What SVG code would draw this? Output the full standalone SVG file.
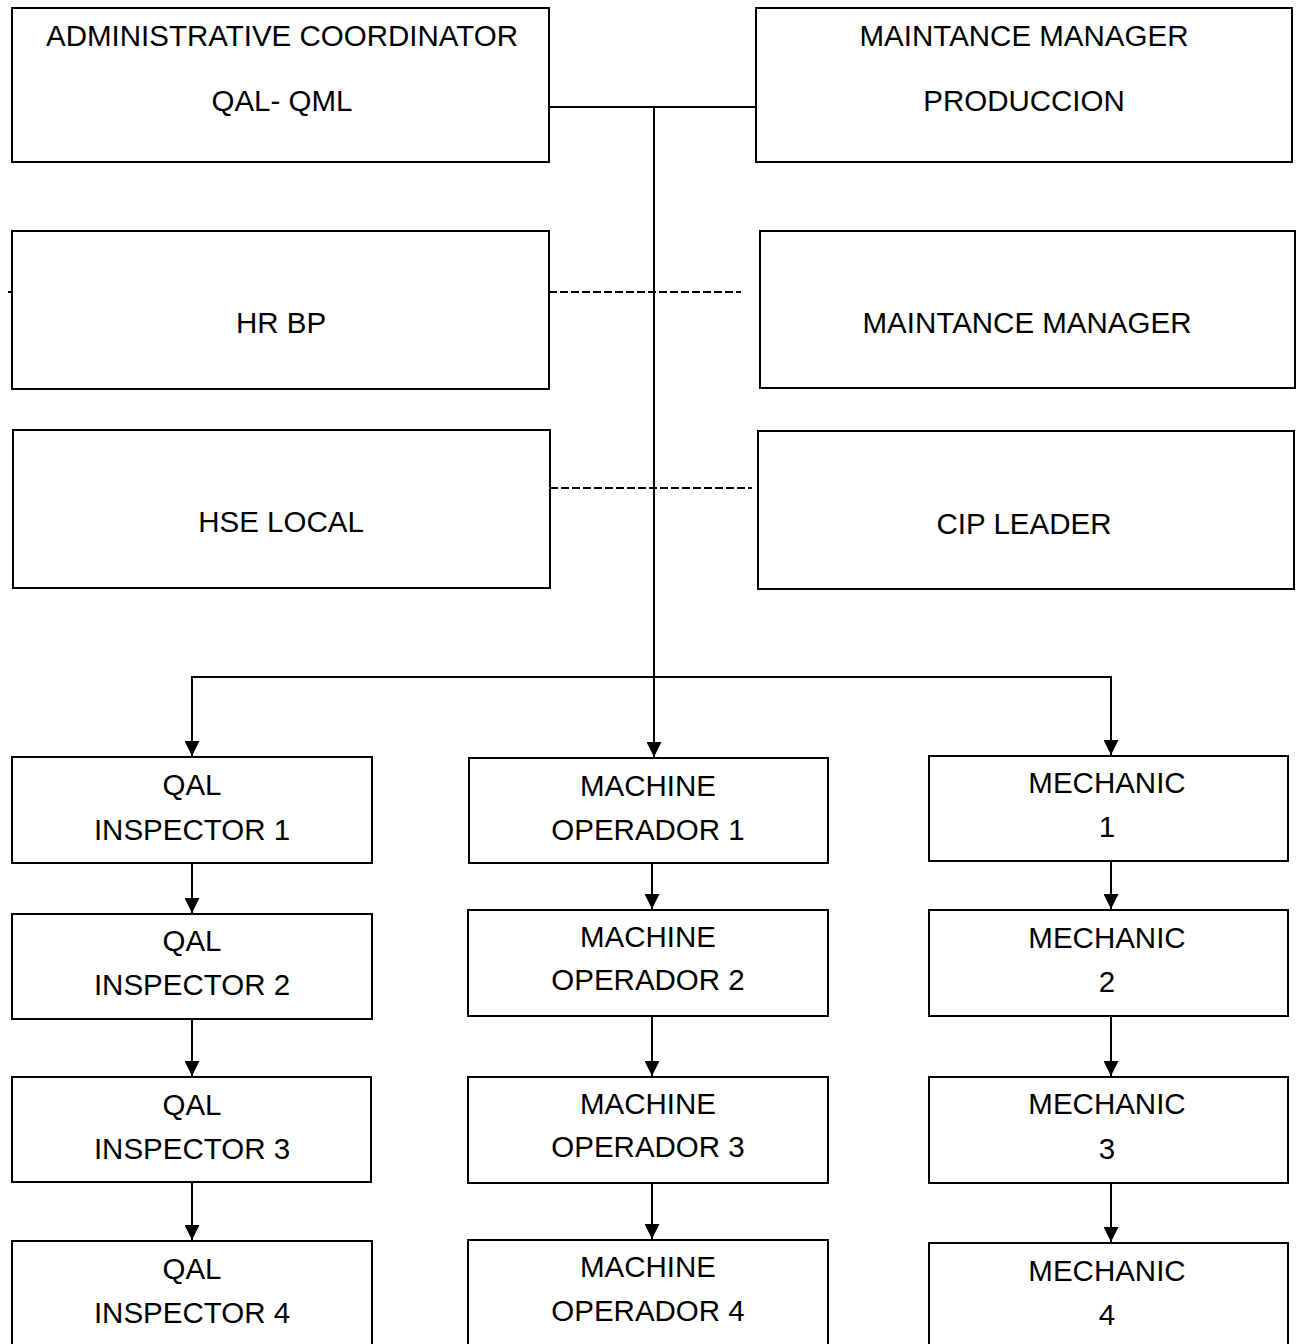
<svg xmlns="http://www.w3.org/2000/svg" width="1296" height="1344" viewBox="0 0 1296 1344">
<style>
.box{fill:#fff;stroke:#000;stroke-width:2}
.t{font-family:"Liberation Sans",Arial,sans-serif;font-size:29.5px;fill:#000;text-anchor:middle}
.c{fill:none;stroke:#000;stroke-width:2}
.d{fill:none;stroke:#000;stroke-width:2;stroke-dasharray:8 3}
</style>
<defs>
<marker id="arr" markerWidth="15" markerHeight="15" refX="15" refY="7.5" orient="auto" markerUnits="userSpaceOnUse">
<path d="M0,0 L15,7.5 L0,15 z" fill="#000"/>
</marker>
</defs>
<rect width="1296" height="1344" fill="#fff"/>
<g id="connectors">
<path class="c" d="M549 107 H756"/>
<path class="c" d="M654 107 V757" marker-end="url(#arr)"/>
<path class="c" d="M654 677 H192 V756" marker-end="url(#arr)"/>
<path class="c" d="M654 677 H1111 V755" marker-end="url(#arr)"/>
<path class="d" d="M549 292 H741"/>
<path class="d" d="M550 488 H752"/>
<path class="c" d="M8 292 H12"/>
<path class="c" d="M192 863 V913" marker-end="url(#arr)"/>
<path class="c" d="M652 863 V909" marker-end="url(#arr)"/>
<path class="c" d="M1111 861 V909" marker-end="url(#arr)"/>
<path class="c" d="M192 1019 V1076" marker-end="url(#arr)"/>
<path class="c" d="M652 1016 V1076" marker-end="url(#arr)"/>
<path class="c" d="M1111 1016 V1076" marker-end="url(#arr)"/>
<path class="c" d="M192 1182 V1240" marker-end="url(#arr)"/>
<path class="c" d="M652 1183 V1239" marker-end="url(#arr)"/>
<path class="c" d="M1111 1183 V1242" marker-end="url(#arr)"/>
</g>
<g id="admin"><rect class="box" x="12" y="8" width="537" height="154"/><text class="t" x="282" y="46">ADMINISTRATIVE COORDINATOR</text><text class="t" x="282" y="111">QAL- QML</text></g>
<g id="mmprod"><rect class="box" x="756" y="8" width="536" height="154"/><text class="t" x="1024" y="46">MAINTANCE MANAGER</text><text class="t" x="1024" y="111">PRODUCCION</text></g>
<g id="hrbp"><rect class="box" x="12" y="231" width="537" height="158"/><text class="t" x="281" y="333">HR BP</text></g>
<g id="mm"><rect class="box" x="760" y="231" width="535" height="157"/><text class="t" x="1027" y="333">MAINTANCE MANAGER</text></g>
<g id="hse"><rect class="box" x="13" y="430" width="537" height="158"/><text class="t" x="281" y="532">HSE LOCAL</text></g>
<g id="cip"><rect class="box" x="758" y="431" width="536" height="158"/><text class="t" x="1024" y="534">CIP LEADER</text></g>
<g id="q1"><rect class="box" x="12" y="757" width="360" height="106"/><text class="t" x="192" y="795">QAL</text><text class="t" x="192" y="840">INSPECTOR 1</text></g>
<g id="m1"><rect class="box" x="469" y="758" width="359" height="105"/><text class="t" x="648" y="796">MACHINE</text><text class="t" x="648" y="840">OPERADOR 1</text></g>
<g id="c1"><rect class="box" x="929" y="756" width="359" height="105"/><text class="t" x="1107" y="793">MECHANIC</text><text class="t" x="1107" y="837">1</text></g>
<g id="q2"><rect class="box" x="12" y="914" width="360" height="105"/><text class="t" x="192" y="951">QAL</text><text class="t" x="192" y="995">INSPECTOR 2</text></g>
<g id="m2"><rect class="box" x="468" y="910" width="360" height="106"/><text class="t" x="648" y="947">MACHINE</text><text class="t" x="648" y="990">OPERADOR 2</text></g>
<g id="c2"><rect class="box" x="929" y="910" width="359" height="106"/><text class="t" x="1107" y="948">MECHANIC</text><text class="t" x="1107" y="992">2</text></g>
<g id="q3"><rect class="box" x="12" y="1077" width="359" height="105"/><text class="t" x="192" y="1115">QAL</text><text class="t" x="192" y="1159">INSPECTOR 3</text></g>
<g id="m3"><rect class="box" x="468" y="1077" width="360" height="106"/><text class="t" x="648" y="1114">MACHINE</text><text class="t" x="648" y="1157">OPERADOR 3</text></g>
<g id="c3"><rect class="box" x="929" y="1077" width="359" height="106"/><text class="t" x="1107" y="1114">MECHANIC</text><text class="t" x="1107" y="1159">3</text></g>
<g id="q4"><rect class="box" x="12" y="1241" width="360" height="110"/><text class="t" x="192" y="1279">QAL</text><text class="t" x="192" y="1323">INSPECTOR 4</text></g>
<g id="m4"><rect class="box" x="468" y="1240" width="360" height="110"/><text class="t" x="648" y="1277">MACHINE</text><text class="t" x="648" y="1321">OPERADOR 4</text></g>
<g id="c4"><rect class="box" x="929" y="1243" width="359" height="110"/><text class="t" x="1107" y="1281">MECHANIC</text><text class="t" x="1107" y="1325">4</text></g>
</svg>
